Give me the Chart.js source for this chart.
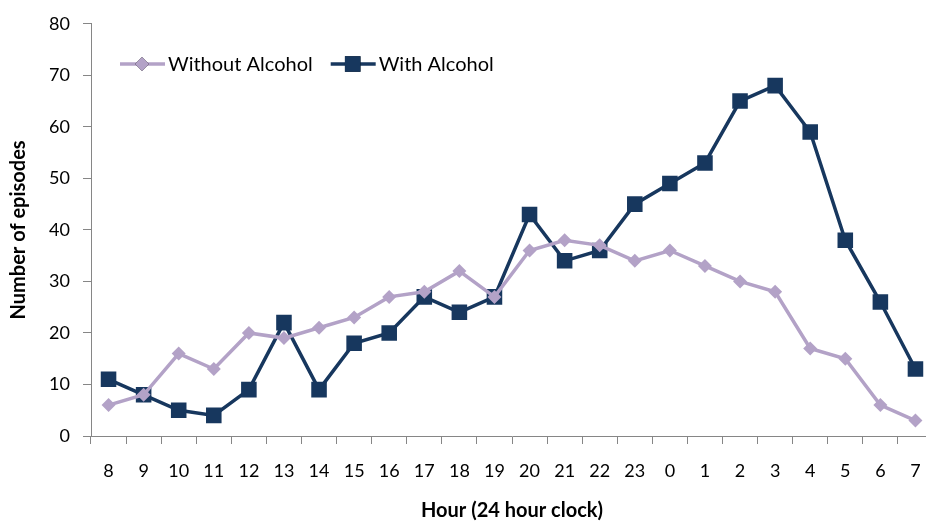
<!DOCTYPE html>
<html>
<head>
<meta charset="utf-8">
<script src="https://cdn.jsdelivr.net/npm/chart.js@4"></script>
<style>
  html, body { margin: 0; padding: 0; background: #fff; overflow: hidden; }
  #wrap { width: 945px; height: 523px; position: relative; }
</style>
</head>
<body>
<div id="wrap"><canvas id="chart"></canvas></div>
<script>
// hours of the day, starting at 8am
const hours = ['8', '9', '10', '11', '12', '13', '14', '15', '16', '17', '18', '19',
    '20', '21', '22', '23', '0', '1', '2', '3', '4', '5', '6', '7'];
const withoutAlcohol = [6, 8, 16, 13, 20, 19, 21, 23, 27, 28, 32, 27,
    36, 38, 37, 34, 36, 33, 30, 28, 17, 15, 6, 3];
const withAlcohol = [11, 8, 5, 4, 9, 22, 9, 18, 20, 27, 24, 27,
    43, 34, 36, 45, 49, 53, 65, 68, 59, 38, 26, 13];
const yTicks = [0, 10, 20, 30, 40, 50, 60, 70, 80];

const FONT = 'Lato, "Open Sans", sans-serif';
const PURPLE = '#b3a2c7';
const NAVY = '#17375e';
const AXIS = '#868686';

// legend drawn inside the plot, top-left, like the original
const insideLegend = {
    id: 'insideLegend',
    afterDraw(chart) {
        const ctx = chart.ctx;
        const y = 64;
        let x = 120;
        ctx.save();
        ctx.font = '20px ' + FONT;
        ctx.textBaseline = 'middle';
        chart.data.datasets.forEach(ds => {
            ctx.strokeStyle = ds.borderColor;
            ctx.lineWidth = ds.borderWidth;
            ctx.beginPath();
            ctx.moveTo(x, y);
            ctx.lineTo(x + 45, y);
            ctx.stroke();
            Chart.helpers.drawPoint(ctx, {
                pointStyle: ds.pointStyle,
                radius: ds.pointRadius,
                borderWidth: 0
            }, x + 22, y);
            ctx.fillStyle = ds.pointBackgroundColor;
            ctx.fill();
            ctx.fillStyle = '#000';
            ctx.fillText(ds.label, x + 48, y + 1);
            x += 48 + ctx.measureText(ds.label).width + 18;
        });
        ctx.restore();
    }
};

new Chart(document.getElementById('chart'), {
    type: 'line',
    data: {
        labels: hours,
        datasets: [
            {
                label: 'Without Alcohol',
                data: withoutAlcohol,
                borderColor: PURPLE,
                backgroundColor: PURPLE,
                pointBackgroundColor: PURPLE,
                pointBorderWidth: 0,
                borderWidth: 3.5,
                pointStyle: 'rectRot',
                pointRadius: 7,
                tension: 0
            },
            {
                label: 'With Alcohol',
                data: withAlcohol,
                borderColor: NAVY,
                backgroundColor: NAVY,
                pointBackgroundColor: NAVY,
                pointBorderWidth: 0,
                borderWidth: 3.5,
                pointStyle: 'rect',
                pointRadius: 11,
                tension: 0
            }
        ]
    },
    options: {
        responsive: true,
        maintainAspectRatio: false,
        animation: false,
        layout: { padding: { top: 22, right: 12, left: 0, bottom: 0 } },
        plugins: {
            legend: { display: false },
            tooltip: { enabled: false }
        },
        scales: {
            x: {
                offset: true,
                grid: {
                    offset: true,
                    drawOnChartArea: false,
                    color: AXIS,
                    tickLength: 8
                },
                border: { color: AXIS, width: 1 },
                ticks: {
                    color: '#000',
                    font: { family: FONT, size: 18 },
                    padding: 16,
                    maxRotation: 0,
                    autoSkip: false
                },
                title: {
                    display: true,
                    text: 'Hour (24 hour clock)',
                    color: '#000',
                    font: { family: FONT, size: 20, weight: 'bold' },
                    padding: { top: 14, bottom: 0 }
                },
                afterFit(scale) { scale.height = 87; }
            },
            y: {
                min: 0,
                max: 80,
                afterBuildTicks(scale) { scale.ticks = yTicks.map(v => ({ value: v })); },
                grid: {
                    drawOnChartArea: false,
                    color: AXIS,
                    tickLength: 8
                },
                border: { color: AXIS, width: 1 },
                ticks: {
                    color: '#000',
                    font: { family: FONT, size: 18 },
                    padding: 13
                },
                title: {
                    display: true,
                    text: 'Number of episodes',
                    color: '#000',
                    font: { family: FONT, size: 20, weight: 'bold' },
                    padding: { top: 7, bottom: 4 }
                },
                afterFit(scale) { scale.width = 91; }
            }
        }
    },
    plugins: [insideLegend]
});
</script>
</body>
</html>
